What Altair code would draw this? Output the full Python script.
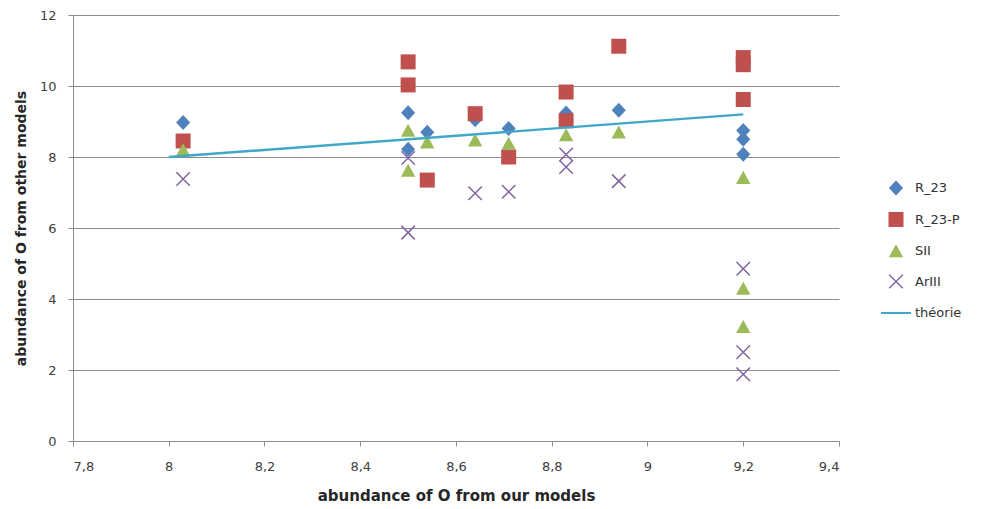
import altair as alt
import pandas as pd

# Series metadata
series_names = ["R_23", "R_23-P", "SII", "ArIII", "théorie"]
series_colors = ["#4F81BD", "#C0504D", "#9BBB59", "#8064A2", "#3FA8C8"]

# Oxygen abundance: our models (x) vs other models (y)
r23_x = [8.03, 8.50, 8.50, 8.54, 8.64, 8.71, 8.83, 8.94, 9.20, 9.20, 9.20]
r23_y = [8.97, 9.25, 8.22, 8.70, 9.05, 8.80, 9.24, 9.32, 8.75, 8.50, 8.08]

r23p_x = [8.03, 8.50, 8.50, 8.54, 8.64, 8.71, 8.83, 8.83, 8.94, 9.20, 9.20, 9.20]
r23p_y = [8.45, 10.68, 10.03, 7.35, 9.22, 8.00, 9.83, 9.02, 11.12, 10.80, 10.60, 9.62]

sii_x = [8.03, 8.50, 8.50, 8.54, 8.64, 8.71, 8.83, 8.94, 9.20, 9.20, 9.20]
sii_y = [8.20, 8.75, 7.62, 8.42, 8.47, 8.38, 8.62, 8.70, 7.42, 4.30, 3.22]

ariii_x = [8.03, 8.50, 8.50, 8.64, 8.71, 8.83, 8.83, 8.94, 9.20, 9.20, 9.20]
ariii_y = [7.38, 7.97, 5.87, 6.98, 7.02, 8.07, 7.72, 7.32, 4.85, 2.50, 1.88]

# One-to-one reference line
theory_x = [8.0, 9.2]
theory_y = [8.0, 9.2]

x_ticks = [7.8, 8.0, 8.2, 8.4, 8.6, 8.8, 9.0, 9.2, 9.4]
y_ticks = [0, 2, 4, 6, 8, 10, 12]

frames = []
for name, xs, ys in [
    ("R_23", r23_x, r23_y),
    ("R_23-P", r23p_x, r23p_y),
    ("SII", sii_x, sii_y),
    ("ArIII", ariii_x, ariii_y),
]:
    frames.append(pd.DataFrame({"x": xs, "y": ys, "series": name}))
points = pd.concat(frames, ignore_index=True)
points["order"] = range(len(points))

theory = pd.DataFrame({"x": theory_x, "y": theory_y})

# Marker outlines, in symbol units (scaled by sqrt(size)/2)
a, e = 0.45, 0.035
x_mark = (
    f"M{-a+e},{-a-e}L{a+e},{a-e}L{a-e},{a+e}L{-a-e},{-a+e}Z"
    f"M{-a+e},{a+e}L{-a-e},{a-e}L{a-e},{-a-e}L{a+e},{-a+e}Z"
)
shape_paths = [
    "M0,-0.5L0.47,0L0,0.5L-0.47,0Z",
    "M-0.5,-0.5L0.5,-0.5L0.5,0.5L-0.5,0.5Z",
    "M0,-0.45L0.48,0.42L-0.48,0.42Z",
    x_mark,
    "M-1,-0.07L1,-0.07L1,0.07L-1,0.07Z",
]

FONT = "DejaVu Sans"

legend = alt.Legend(
    title=None,
    orient="none",
    legendX=808,
    legendY=158,
    labelFont=FONT,
    labelFontSize=13,
    labelColor="#333333",
    labelOffset=4,
    rowPadding=8.5,
    symbolStrokeWidth=0,
    symbolSize=900,
    padding=0,
)

x_axis = alt.Axis(
    values=x_ticks,
    labelExpr="replace(format(datum.value, '~g'), '.', ',')",
    grid=False,
    tickSize=5,
    tickColor="#8c8c8c",
    domainColor="#8c8c8c",
    labelFont=FONT,
    labelFontSize=13,
    labelColor="#404040",
    labelPadding=14,
    title="abundance of O from our models",
    titleFont=FONT,
    titleFontSize=15,
    titleFontWeight="bold",
    titleColor="#262626",
    titlePadding=15,
)

y_axis = alt.Axis(
    values=y_ticks,
    grid=True,
    gridColor="#8c8c8c",
    tickSize=5,
    tickColor="#8c8c8c",
    domainColor="#8c8c8c",
    labelFont=FONT,
    labelFontSize=13,
    labelColor="#404040",
    labelPadding=12,
    title="abundance of O from other models",
    titleFont=FONT,
    titleFontSize=14,
    titleFontWeight="bold",
    titleColor="#262626",
    titlePadding=11,
)

x_scale = alt.Scale(domain=[7.8, 9.4], nice=False, zero=False)
y_scale = alt.Scale(domain=[0, 12], nice=False)

scatter = alt.Chart(points).mark_point(filled=True, size=900, opacity=1).encode(
    x=alt.X("x:Q", scale=x_scale, axis=x_axis),
    y=alt.Y("y:Q", scale=y_scale, axis=y_axis),
    color=alt.Color(
        "series:N",
        scale=alt.Scale(domain=series_names, range=series_colors),
        legend=legend,
    ),
    shape=alt.Shape(
        "series:N",
        scale=alt.Scale(domain=series_names, range=shape_paths),
        legend=legend,
    ),
    order=alt.Order("order:Q"),
)

line = alt.Chart(theory).mark_line(strokeWidth=2.4, color="#3FA8C8").encode(
    x=alt.X("x:Q", scale=x_scale),
    y=alt.Y("y:Q", scale=y_scale),
)

chart = (
    alt.layer(scatter, line)
    .properties(
        width=766,
        height=426,
        autosize=alt.AutoSizeParams(type="none"),
        padding={"left": 73, "top": 15, "right": 150, "bottom": 68},
        background="white",
    )
    .configure_view(stroke=None)
)

chart.save("out.html", embed_options={"renderer": "svg", "actions": False})
